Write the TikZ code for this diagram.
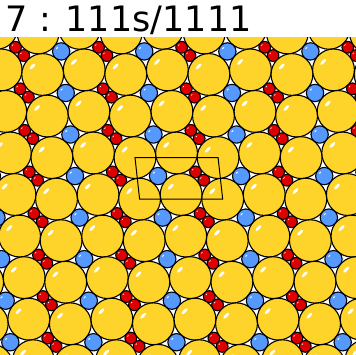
\documentclass[tikz,border=0pt]{standalone}
\usepackage{fontspec}
\newfontfamily\titlefont{DejaVu Sans}
\usepackage{tikz}
\definecolor{discgold}{HTML}{FFD42A}
\definecolor{discblue}{HTML}{5599FF}
\definecolor{discred}{HTML}{DD0000}

\begin{document}
\begin{tikzpicture}[
    x=1pt, y=-1pt,
    bigdisc/.style={fill=discgold, draw=black, line width=1.1pt},
    bluedisc/.style={fill=discblue, draw=black, line width=1.1pt},
    reddisc/.style={fill=discred, draw=black, line width=1.1pt},
    shine/.style={fill=white},
    cellline/.style={draw=black, line width=1pt}
]
\useasboundingbox (0,0) rectangle (356,355);
\fill[white] (0,0) rectangle (356,355);

\begin{scope}
\clip (0,0) rectangle (356,355);
\foreach \i in {-3,...,4}
  \foreach \j in {-5,...,6} {
    \pgfmathsetmacro{\ox}{135+83.09*\i+4.606*\j}
    \pgfmathsetmacro{\oy}{157.6+41.545*\j}
    % two large discs per cell
    \path[bigdisc] (\ox,\oy) circle [radius=20.9];
    \path[bigdisc] (\ox+41.545,\oy-4.606) circle [radius=20.9];
    \fill[shine, rotate around={45:(\ox-10.3,\oy-8)}] (\ox-10.3,\oy-8) ellipse [x radius=3.8, y radius=1.5];
    \fill[shine, rotate around={45:(\ox+31.2,\oy-12.6)}] (\ox+31.2,\oy-12.6) ellipse [x radius=3.8, y radius=1.5];
    % blue disc in the square hole
    \path[bluedisc] (\ox+23.076,\oy+18.47) circle [radius=8.66];
    \fill[shine, rotate around={45:(\ox+18.9,\oy+15.1)}] (\ox+18.9,\oy+15.1) ellipse [x radius=1.6, y radius=0.65];
    % red pair in the rhombic hole
    \path[reddisc] (\ox+60.47,\oy+14.32) circle [radius=5.87];
    \path[reddisc] (\ox+68.77,\oy+22.62) circle [radius=5.87];
    \fill[shine, rotate around={45:(\ox+57.6,\oy+12.1)}] (\ox+57.6,\oy+12.1) ellipse [x radius=1.1, y radius=0.45];
    \fill[shine, rotate around={45:(\ox+65.9,\oy+20.4)}] (\ox+65.9,\oy+20.4) ellipse [x radius=1.1, y radius=0.45];
  }
\end{scope}

\draw[cellline] (135,157.6) -- ++(83.09,0) -- ++(4.606,41.545) -- ++(-83.09,0) -- cycle;

\fill[white] (0,0) rectangle (356,37.3);
\node[anchor=base west, inner sep=0] (title) at (5.5,31.7) {\titlefont\fontsize{35}{40}\selectfont 7 : 111s/1111};
\end{tikzpicture}
\end{document}
